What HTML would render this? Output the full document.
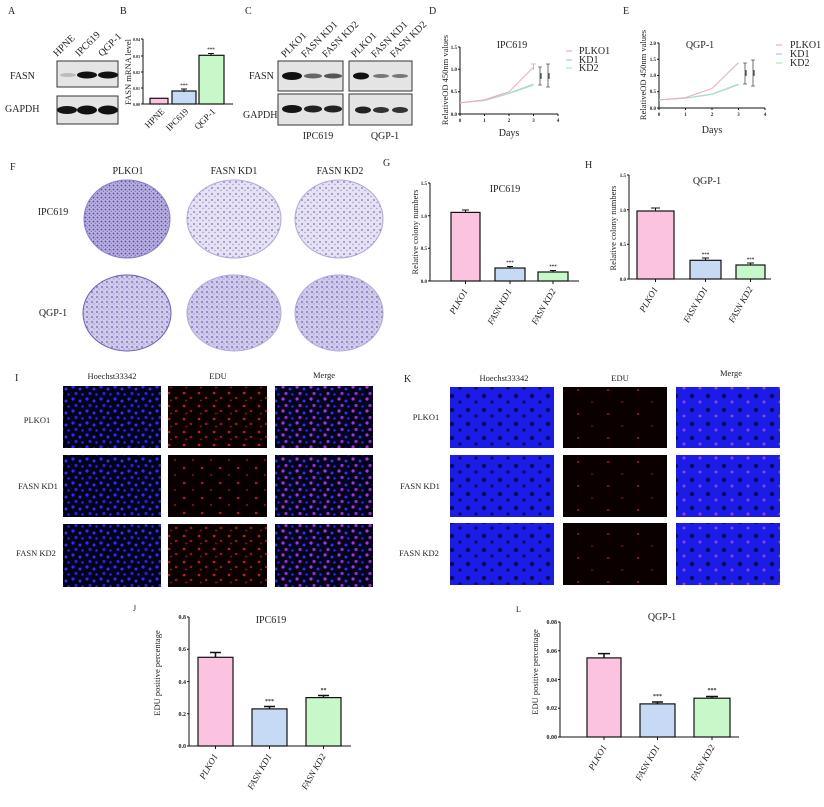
<!DOCTYPE html>
<html><head><meta charset="utf-8"><style>
html,body{margin:0;padding:0;background:#fff}
svg{display:block}
text{font-family:"Liberation Serif",serif;fill:#222}
.t{font-size:10px}
.k{font-family:"Liberation Sans",sans-serif;font-size:5px;font-weight:bold}
.ax{stroke:#111;stroke-width:1;fill:none}
.bar{stroke:#111;stroke-width:1.2}
</style></head><body>
<svg width="824" height="807" viewBox="0 0 824 807" xmlns="http://www.w3.org/2000/svg">
<defs>
<pattern id="bdot" width="14" height="12" patternUnits="userSpaceOnUse">
<rect width="14" height="12" fill="#02021a"/>
<circle cx="3" cy="3" r="1.6" fill="#2a2aff"/><circle cx="10" cy="5" r="1.5" fill="#3030f0"/><circle cx="6" cy="9.5" r="1.6" fill="#2222dd"/><circle cx="12.5" cy="10.5" r="1.2" fill="#2a2aff"/>
</pattern>
<pattern id="rdot" width="15" height="13" patternUnits="userSpaceOnUse">
<rect width="15" height="13" fill="#0a0000"/>
<circle cx="4" cy="3" r="1.3" fill="#d01818"/><circle cx="11" cy="8" r="1.2" fill="#b01010"/><circle cx="6" cy="10.5" r="1" fill="#901010"/>
</pattern>
<pattern id="rdot2" width="18" height="15" patternUnits="userSpaceOnUse">
<rect width="18" height="15" fill="#080000"/>
<circle cx="4" cy="3" r="1.2" fill="#c01515"/><circle cx="13" cy="10" r="1" fill="#901010"/>
</pattern>
<pattern id="mdot" width="14" height="12" patternUnits="userSpaceOnUse">
<rect width="14" height="12" fill="#03031c"/>
<circle cx="3" cy="3" r="1.6" fill="#b030e0"/><circle cx="10" cy="5" r="1.5" fill="#3030f0"/><circle cx="6" cy="9.5" r="1.6" fill="#9a28d8"/><circle cx="12.5" cy="10.5" r="1.2" fill="#2a2aff"/>
</pattern>
<pattern id="kb" width="16" height="14" patternUnits="userSpaceOnUse">
<rect width="16" height="14" fill="#1c1ce8"/>
<circle cx="4" cy="4" r="2.2" fill="#0a0a50"/><circle cx="12" cy="10" r="1.8" fill="#0c0c70"/>
</pattern>
<pattern id="kr" width="30" height="24" patternUnits="userSpaceOnUse">
<rect width="30" height="24" fill="#0a0000"/>
<circle cx="8" cy="6" r="1" fill="#b01515"/><circle cx="22" cy="18" r="0.9" fill="#801010"/>
</pattern>
<pattern id="km" width="16" height="14" patternUnits="userSpaceOnUse">
<rect width="16" height="14" fill="#1c1ce8"/>
<circle cx="4" cy="4" r="2.2" fill="#0a0a50"/><circle cx="12" cy="10" r="1.5" fill="#9040e8"/>
</pattern>
<pattern id="dish" width="6" height="6" patternUnits="userSpaceOnUse">
<rect width="6" height="6" fill="#e6e2f3"/><circle cx="2" cy="2" r="0.9" fill="#7a6cc0"/><circle cx="5" cy="4.5" r="0.7" fill="#9a8fd0"/>
</pattern>
<pattern id="dish2" width="4" height="4" patternUnits="userSpaceOnUse">
<rect width="4" height="4" fill="#b9b0e0"/><circle cx="1.5" cy="1.5" r="0.9" fill="#5a46b0"/><circle cx="3.3" cy="3.2" r="0.6" fill="#7060c0"/>
</pattern>
<pattern id="dish3" width="5" height="5" patternUnits="userSpaceOnUse">
<rect width="5" height="5" fill="#d0cbea"/><circle cx="2" cy="2" r="0.9" fill="#6a5cb8"/><circle cx="4" cy="4" r="0.6" fill="#8a80cc"/>
</pattern>
</defs>

<!-- A -->
<text x="8" y="14" class="t">A</text>
<g class="t">
<text transform="translate(57,57) rotate(-45)">HPNE</text>
<text transform="translate(79,57) rotate(-45)">IPC619</text>
<text transform="translate(102,57) rotate(-45)">QGP-1</text>
</g>
<rect x="57" y="61" width="61" height="26" fill="#e4e4e4" stroke="#333"/>
<rect x="57" y="96" width="61" height="28" fill="#e4e4e4" stroke="#333"/>
<ellipse cx="68" cy="75" rx="8" ry="2" fill="#bbb"/>
<ellipse cx="87" cy="75" rx="10" ry="3.5" fill="#111"/>
<ellipse cx="108" cy="75" rx="10" ry="3.5" fill="#111"/>
<ellipse cx="67" cy="110" rx="10" ry="4" fill="#151515"/>
<ellipse cx="87" cy="110" rx="10" ry="4.5" fill="#111"/>
<ellipse cx="108" cy="110" rx="10" ry="4.5" fill="#111"/>
<text x="10" y="79" class="t">FASN</text>
<text x="5" y="112" class="t">GAPDH</text>

<!-- B -->
<text x="120" y="14" class="t">B</text>
<text transform="translate(131,72) rotate(-90)" class="t" text-anchor="middle" style="font-size:8.5px">FASN mRNA level</text>
<path class="ax" d="M143,39 V104 H233 M141,39 H143 M141,56 H143 M141,72 H143 M141,88 H143 M141,104 H143"/>
<g class="k" text-anchor="end" style="font-size:4px"><text x="140" y="41">0.04</text><text x="140" y="58">0.03</text><text x="140" y="74">0.02</text><text x="140" y="90">0.01</text><text x="140" y="106">0.00</text></g>
<rect x="150" y="98.3" width="18" height="5.7" fill="#fbc3e0" class="bar"/>
<rect x="172" y="91" width="24" height="13" fill="#c7daf5" class="bar"/>
<rect x="199" y="55.3" width="25" height="48.7" fill="#c8f7c9" class="bar"/>
<path class="ax" d="M184,89 V92 M181,89 H187 M211,53.5 V56 M208,53.5 H214"/>
<g class="k" text-anchor="middle"><text x="184" y="87">***</text><text x="211" y="51">***</text></g>
<g class="t" style="font-size:9px" text-anchor="end">
<text transform="translate(165,112) rotate(-45)">HPNE</text>
<text transform="translate(189,112) rotate(-45)">IPC619</text>
<text transform="translate(216,112) rotate(-45)">QGP-1</text>
</g>

<!-- C -->
<text x="245" y="14" class="t">C</text>
<g class="t">
<text transform="translate(285,58) rotate(-45)">PLKO1</text>
<text transform="translate(305,58) rotate(-45)">FASN KD1</text>
<text transform="translate(326,58) rotate(-45)">FASN KD2</text>
<text transform="translate(355,58) rotate(-45)">PLKO1</text>
<text transform="translate(375,58) rotate(-45)">FASN KD1</text>
<text transform="translate(394,58) rotate(-45)">FASN KD2</text>
</g>
<rect x="278" y="61" width="65" height="30" fill="#e4e4e4" stroke="#333"/>
<rect x="349" y="61" width="63" height="30" fill="#e4e4e4" stroke="#333"/>
<rect x="278" y="94" width="65" height="31" fill="#e4e4e4" stroke="#333"/>
<rect x="349" y="94" width="63" height="31" fill="#e4e4e4" stroke="#333"/>
<ellipse cx="292" cy="76" rx="10" ry="4" fill="#111"/>
<ellipse cx="313" cy="76" rx="9" ry="2.5" fill="#666"/>
<ellipse cx="333" cy="76" rx="9" ry="2.5" fill="#555"/>
<ellipse cx="361" cy="76" rx="8" ry="3.5" fill="#111"/>
<ellipse cx="381" cy="76" rx="8" ry="2" fill="#777"/>
<ellipse cx="400" cy="76" rx="8" ry="2" fill="#777"/>
<ellipse cx="292" cy="109" rx="10" ry="4" fill="#151515"/>
<ellipse cx="313" cy="109" rx="9" ry="3.5" fill="#222"/>
<ellipse cx="333" cy="109" rx="9" ry="3.5" fill="#222"/>
<ellipse cx="363" cy="110" rx="8" ry="3.5" fill="#222"/>
<ellipse cx="381" cy="110" rx="8" ry="3" fill="#333"/>
<ellipse cx="400" cy="110" rx="8" ry="3" fill="#333"/>
<text x="249" y="79" class="t">FASN</text>
<text x="243" y="118" class="t">GAPDH</text>
<text x="318" y="139" class="t" text-anchor="middle">IPC619</text>
<text x="385" y="139" class="t" text-anchor="middle">QGP-1</text>

<!-- D -->
<text x="429" y="14" class="t">D</text>
<text transform="translate(448,80) rotate(-90)" class="t" text-anchor="middle" style="font-size:8.5px">RelativeOD 450nm values</text>
<text x="512" y="48" class="t" text-anchor="middle">IPC619</text>
<path class="ax" d="M460,47 V114 H558 M458,47 H460 M458,69.3 H460 M458,91.7 H460 M458,114 H460 M460,114 V116 M484.5,114 V116 M509,114 V116 M533.5,114 V116 M558,114 V116"/>
<g class="k" text-anchor="end"><text x="457" y="49">1.5</text><text x="457" y="71">1.0</text><text x="457" y="93">0.5</text><text x="457" y="116">0.0</text></g>
<g class="k" text-anchor="middle"><text x="460" y="122">0</text><text x="484.5" y="122">1</text><text x="509" y="122">2</text><text x="533.5" y="122">3</text><text x="558" y="122">4</text></g>
<polyline points="460,102.8 484.5,100.6 509,93.5 533.5,85" fill="none" stroke="#a9c8e8" stroke-width="1"/>
<polyline points="460,102.8 484.5,100.2 509,93 533.5,84" fill="none" stroke="#a6e8b8" stroke-width="1"/>
<polyline points="460,102.8 484.5,99.7 509,91.7 533.5,67.1" fill="none" stroke="#f6a5c8" stroke-width="1"/>
<path d="M533.5,64 V70 M531,64 H536" stroke="#f6a5c8"/>
<path class="ax" d="M540,67 V85 M538,67 H542 M538,85 H542 M548,64 V87 M546,64 H550 M546,87 H550" style="stroke-width:.6"/>
<text transform="translate(544,76) rotate(-90)" class="k" text-anchor="middle">***</text>
<text transform="translate(552,76) rotate(-90)" class="k" text-anchor="middle">***</text>
<text x="509" y="136" class="t" text-anchor="middle">Days</text>
<g class="t"><text x="579" y="54">PLKO1</text><text x="579" y="63">KD1</text><text x="579" y="71">KD2</text></g>
<path d="M566,51 H572" stroke-width="1.2" stroke="#f6a5c8"/>
<path d="M566,60 H572" stroke="#a9c8e8" stroke-width="1.2"/><path d="M566,68 H572" stroke="#a6e8b8" stroke-width="1.2"/>

<!-- E -->
<text x="623" y="14" class="t">E</text>
<text transform="translate(646,75) rotate(-90)" class="t" text-anchor="middle" style="font-size:8.5px">RelativeOD 450nm values</text>
<text x="700" y="48" class="t" text-anchor="middle">QGP-1</text>
<path class="ax" d="M659,43 V108 H765 M657,43 H659 M657,59.25 H659 M657,75.5 H659 M657,91.75 H659 M657,108 H659 M659,108 V110 M685.5,108 V110 M712,108 V110 M738.5,108 V110 M765,108 V110"/>
<g class="k" text-anchor="end"><text x="656" y="45">2.0</text><text x="656" y="61">1.5</text><text x="656" y="77">1.0</text><text x="656" y="93">0.5</text><text x="656" y="110">0.0</text></g>
<g class="k" text-anchor="middle"><text x="659" y="116">0</text><text x="685.5" y="116">1</text><text x="712" y="116">2</text><text x="738.5" y="116">3</text><text x="765" y="116">4</text></g>
<polyline points="659,99.9 685.5,98.25 712,94.35 738.5,84.6" fill="none" stroke="#a9c8e8"/>
<polyline points="659,99.9 685.5,98 712,94 738.5,84" fill="none" stroke="#a6e8b8"/>
<polyline points="659,99.9 685.5,97.6 712,88.5 738.5,62.5" fill="none" stroke="#f6a5c8"/>
<path class="ax" d="M745,63 V84 M743,63 H747 M743,84 H747 M753,60 V86 M751,60 H755 M751,86 H755" style="stroke-width:.6"/>
<text transform="translate(749,73) rotate(-90)" class="k" text-anchor="middle">***</text>
<text transform="translate(757,73) rotate(-90)" class="k" text-anchor="middle">***</text>
<text x="712" y="133" class="t" text-anchor="middle">Days</text>
<g class="t"><text x="790" y="48">PLKO1</text><text x="790" y="57">KD1</text><text x="790" y="66">KD2</text></g>
<path d="M776,45 H782" stroke="#f6a5c8" stroke-width="1.2"/><path d="M776,54 H782" stroke="#a9c8e8" stroke-width="1.2"/><path d="M776,63 H782" stroke="#a6e8b8" stroke-width="1.2"/>

<!-- F -->
<text x="10" y="170" class="t">F</text>
<g class="t" text-anchor="middle"><text x="128" y="174">PLKO1</text><text x="234" y="174">FASN KD1</text><text x="340" y="174">FASN KD2</text>
<text x="53" y="215">IPC619</text><text x="53" y="316">QGP-1</text></g>
<ellipse cx="127" cy="219" rx="43" ry="39" fill="url(#dish2)" stroke="#8a7ccc"/>
<ellipse cx="234" cy="219" rx="47" ry="39" fill="url(#dish)" stroke="#b0a8d8"/>
<ellipse cx="339" cy="219" rx="44" ry="39" fill="url(#dish)" stroke="#b0a8d8"/>
<ellipse cx="127" cy="313" rx="44" ry="38" fill="url(#dish3)" stroke="#6a5cb8"/>
<ellipse cx="234" cy="313" rx="47" ry="38" fill="url(#dish3)" stroke="#b0a8d8"/>
<ellipse cx="339" cy="313" rx="44" ry="38" fill="url(#dish3)" stroke="#b0a8d8"/>

<!-- G -->
<text x="383" y="166" class="t">G</text>
<text transform="translate(418,232) rotate(-90)" class="t" text-anchor="middle" style="font-size:8.5px">Relative colony numbers</text>
<text x="505" y="192" class="t" text-anchor="middle">IPC619</text>
<path class="ax" d="M430,183 V281 H579 M428,183 H430 M428,215.7 H430 M428,248.3 H430 M428,281 H430 M465.5,281 V284 M510,281 V284 M553,281 V284"/>
<g class="k" text-anchor="end"><text x="427" y="185">1.5</text><text x="427" y="218">1.0</text><text x="427" y="250">0.5</text><text x="427" y="283">0.0</text></g>
<rect x="451" y="212.4" width="29" height="68.6" fill="#fbc3e0" class="bar"/>
<rect x="495" y="268" width="30" height="13" fill="#c7daf5" class="bar"/>
<rect x="538" y="272" width="30" height="9" fill="#c8f7c9" class="bar"/>
<path class="ax" d="M465.5,210 V212.4 M462,210 H469 M510,266.5 V268 M507,266.5 H513 M553,270.5 V272 M550,270.5 H556"/>
<g class="k" text-anchor="middle"><text x="510" y="264">***</text><text x="553" y="268">***</text></g>
<g class="t" style="font-size:9px;font-style:italic" text-anchor="end">
<text transform="translate(468,291) rotate(-60)">PLKO1</text>
<text transform="translate(512,291) rotate(-60)">FASN KD1</text>
<text transform="translate(556,291) rotate(-60)">FASN KD2</text>
</g>

<!-- H -->
<text x="585" y="168" class="t">H</text>
<text transform="translate(616,228) rotate(-90)" class="t" text-anchor="middle" style="font-size:8.5px">Relative colony numbers</text>
<text x="707" y="184" class="t" text-anchor="middle">QGP-1</text>
<path class="ax" d="M629,175 V279 H771 M627,175 H629 M627,209.7 H629 M627,244.3 H629 M627,279 H629 M655.5,279 V282 M705.5,279 V282 M750.5,279 V282"/>
<g class="k" text-anchor="end"><text x="626" y="177">1.5</text><text x="626" y="212">1.0</text><text x="626" y="246">0.5</text><text x="626" y="281">0.0</text></g>
<rect x="637" y="211" width="37" height="68" fill="#fbc3e0" class="bar"/>
<rect x="690" y="260.3" width="31" height="18.7" fill="#c7daf5" class="bar"/>
<rect x="736" y="265" width="29" height="14" fill="#c8f7c9" class="bar"/>
<path class="ax" d="M655.5,208 V211 M651,208 H660 M705.5,258 V260.3 M702,258 H709 M750.5,263 V265 M747,263 H754"/>
<g class="k" text-anchor="middle"><text x="705.5" y="256">***</text><text x="750.5" y="261">***</text></g>
<g class="t" style="font-size:9px;font-style:italic" text-anchor="end">
<text transform="translate(658,289) rotate(-60)">PLKO1</text>
<text transform="translate(708,289) rotate(-60)">FASN KD1</text>
<text transform="translate(753,289) rotate(-60)">FASN KD2</text>
</g>

<!-- I -->
<text x="15" y="381" class="t">I</text>
<g class="t" text-anchor="middle" style="font-size:8.5px"><text x="112" y="379">Hoechst33342</text><text x="218" y="379">EDU</text><text x="324" y="378">Merge</text>
<text x="37" y="423">PLKO1</text><text x="38" y="489">FASN KD1</text><text x="36" y="556">FASN KD2</text></g>
<rect x="63" y="386" width="98" height="62" fill="url(#bdot)"/>
<rect x="168" y="386" width="99" height="62" fill="url(#rdot)"/>
<rect x="275" y="386" width="98" height="62" fill="url(#mdot)"/>
<rect x="63" y="455" width="98" height="62" fill="url(#bdot)"/>
<rect x="168" y="455" width="99" height="62" fill="url(#rdot2)"/>
<rect x="275" y="455" width="98" height="62" fill="url(#mdot)"/>
<rect x="63" y="524" width="98" height="63" fill="url(#bdot)"/>
<rect x="168" y="524" width="99" height="63" fill="url(#rdot)"/>
<rect x="275" y="524" width="98" height="63" fill="url(#mdot)"/>

<!-- K -->
<text x="404" y="382" class="t">K</text>
<g class="t" text-anchor="middle" style="font-size:8.5px"><text x="504" y="381">Hoechst33342</text><text x="620" y="381">EDU</text><text x="731" y="376">Merge</text>
<text x="426" y="420">PLKO1</text><text x="420" y="489">FASN KD1</text><text x="419" y="556">FASN KD2</text></g>
<rect x="450" y="387" width="104" height="61" fill="url(#kb)"/>
<rect x="563" y="387" width="104" height="61" fill="url(#kr)"/>
<rect x="676" y="387" width="104" height="61" fill="url(#km)"/>
<rect x="450" y="455" width="104" height="62" fill="url(#kb)"/>
<rect x="563" y="455" width="104" height="62" fill="url(#kr)"/>
<rect x="676" y="455" width="104" height="62" fill="url(#km)"/>
<rect x="450" y="523" width="104" height="62" fill="url(#kb)"/>
<rect x="563" y="523" width="104" height="62" fill="url(#kr)"/>
<rect x="676" y="523" width="104" height="62" fill="url(#km)"/>

<!-- J -->
<text x="133" y="611" class="t" style="font-size:8px">J</text>
<text transform="translate(160,673) rotate(-90)" class="t" text-anchor="middle" style="font-size:8.5px">EDU positive percentage</text>
<text x="271" y="623" class="t" text-anchor="middle">IPC619</text>
<path class="ax" d="M189,617 V746 H351 M187,617 H189 M187,649.3 H189 M187,681.5 H189 M187,713.8 H189 M187,746 H189 M215.5,746 V749 M269.5,746 V749 M323.5,746 V749"/>
<g class="k" text-anchor="end" style="font-size:6px"><text x="186" y="619">0.8</text><text x="186" y="651">0.6</text><text x="186" y="684">0.4</text><text x="186" y="716">0.2</text><text x="186" y="748">0.0</text></g>
<rect x="198" y="657.3" width="35" height="88.7" fill="#fbc3e0" class="bar"/>
<rect x="252" y="708.9" width="35" height="37.1" fill="#c7daf5" class="bar"/>
<rect x="306" y="697.6" width="35" height="48.4" fill="#c8f7c9" class="bar"/>
<path class="ax" d="M215.5,652.5 V657.3 M210,652.5 H221 M269.5,706.5 V709 M264,706.5 H275 M323.5,695.5 V697.6 M318,695.5 H329" style="stroke-width:1.5"/>
<g class="k" text-anchor="middle" style="font-size:6px"><text x="269.5" y="703">***</text><text x="323.5" y="692">**</text></g>
<g class="t" style="font-size:9px;font-style:italic" text-anchor="end">
<text transform="translate(218,756) rotate(-60)">PLKO1</text>
<text transform="translate(272,756) rotate(-60)">FASN KD1</text>
<text transform="translate(326,756) rotate(-60)">FASN KD2</text>
</g>

<!-- L -->
<text x="516" y="612" class="t" style="font-size:8px">L</text>
<text transform="translate(538,672) rotate(-90)" class="t" text-anchor="middle" style="font-size:8.5px">EDU positive percentage</text>
<text x="662" y="620" class="t" text-anchor="middle">QGP-1</text>
<path class="ax" d="M560,622 V737 H739 M558,622 H560 M558,650.75 H560 M558,679.5 H560 M558,708.25 H560 M558,737 H560 M604,737 V740 M657.5,737 V740 M712,737 V740"/>
<g class="k" text-anchor="end" style="font-size:6px"><text x="557" y="624">0.08</text><text x="557" y="653">0.06</text><text x="557" y="682">0.04</text><text x="557" y="710">0.02</text><text x="557" y="739">0.00</text></g>
<rect x="587" y="657.9" width="34" height="79.1" fill="#fbc3e0" class="bar"/>
<rect x="640" y="703.9" width="35" height="33.1" fill="#c7daf5" class="bar"/>
<rect x="694" y="698.2" width="36" height="38.8" fill="#c8f7c9" class="bar"/>
<path class="ax" d="M604,653.6 V657.9 M598,653.6 H610 M657.5,702 V704 M652,702 H663 M712,696.5 V698.2 M706,696.5 H718" style="stroke-width:1.5"/>
<g class="k" text-anchor="middle" style="font-size:6px"><text x="657.5" y="698">***</text><text x="712" y="692">***</text></g>
<g class="t" style="font-size:9px;font-style:italic" text-anchor="end">
<text transform="translate(607,747) rotate(-60)">PLKO1</text>
<text transform="translate(660,747) rotate(-60)">FASN KD1</text>
<text transform="translate(715,747) rotate(-60)">FASN KD2</text>
</g>
</svg>
</body></html>
